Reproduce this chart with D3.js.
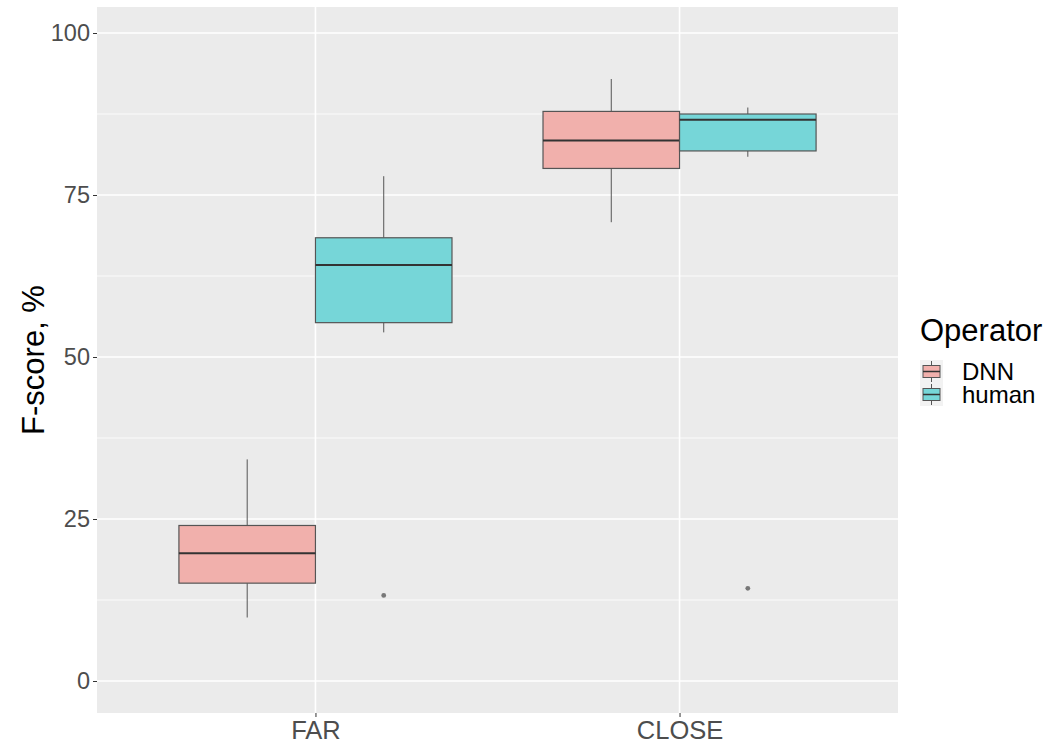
<!DOCTYPE html>
<html>
<head>
<meta charset="utf-8">
<script src="https://cdn.jsdelivr.net/npm/d3@7"></script>
<style>
body { margin: 0; background: #fff; }
text { font-family: "Liberation Sans", Arial, sans-serif; }
</style>
</head>
<body>
<svg width="1053" height="744"></svg>
<script>
// values
var distances = ["FAR", "CLOSE"];
var operators = ["DNN", "human"];
var fills = ["#F1B0AC", "#76D6D8"];
var yTicks = [0, 25, 50, 75, 100];

// one row per box: lower whisker, q1, median, q3, upper whisker
var boxDistance = ["FAR", "FAR", "CLOSE", "CLOSE"];
var boxOperator = ["DNN", "human", "DNN", "human"];
var boxLow  = [9.8, 53.8, 70.8, 80.9];
var boxQ1   = [15.1, 55.3, 79.1, 81.8];
var boxMed  = [19.7, 64.2, 83.4, 86.6];
var boxQ3   = [24.0, 68.4, 87.9, 87.5];
var boxHigh = [34.2, 77.9, 92.9, 88.5];

var outDistance = ["FAR", "CLOSE"];
var outOperator = ["human", "human"];
var outValue = [13.2, 14.3];

var svg = d3.select("svg");
var pLeft = 97, pRight = 898, pTop = 7, pBottom = 713;

var x = d3.scalePoint().domain(distances).range([pLeft, pRight]).padding(0.6);
var step = x.step();
var dodge = d3.scaleBand().domain(operators).range([-0.375 * step, 0.375 * step]);
var y = d3.scaleLinear().domain([0, 100]).range([681, 33]);
var color = d3.scaleOrdinal().domain(operators).range(fills);

svg.append("rect").attr("x", pLeft).attr("y", pTop)
    .attr("width", pRight - pLeft).attr("height", pBottom - pTop).attr("fill", "#EBEBEB");

// grid
var minor = [12.5, 37.5, 62.5, 87.5];
svg.append("g").selectAll("line").data(minor).enter().append("line")
    .attr("x1", pLeft).attr("x2", pRight)
    .attr("y1", function(d) { return y(d); }).attr("y2", function(d) { return y(d); })
    .attr("stroke", "#fff").attr("stroke-width", 0.8);
svg.append("g").selectAll("line").data(yTicks).enter().append("line")
    .attr("x1", pLeft).attr("x2", pRight)
    .attr("y1", function(d) { return y(d); }).attr("y2", function(d) { return y(d); })
    .attr("stroke", "#fff").attr("stroke-width", 1.6);
svg.append("g").selectAll("line").data(distances).enter().append("line")
    .attr("y1", pTop).attr("y2", pBottom)
    .attr("x1", function(d) { return x(d); }).attr("x2", function(d) { return x(d); })
    .attr("stroke", "#fff").attr("stroke-width", 1.6);

// boxes
var boxes = boxDistance.map(function(d, i) {
    return { dist: d, op: boxOperator[i], lo: boxLow[i], q1: boxQ1[i], med: boxMed[i], q3: boxQ3[i], hi: boxHigh[i] };
});
var g = svg.append("g").selectAll("g").data(boxes).enter().append("g")
    .attr("transform", function(d) { return "translate(" + (x(d.dist) + dodge(d.op)) + ",0)"; });
var bw = dodge.bandwidth();
g.append("line").attr("x1", bw / 2).attr("x2", bw / 2)
    .attr("y1", function(d) { return y(d.hi); }).attr("y2", function(d) { return y(d.q3); })
    .attr("stroke", "#555").attr("stroke-width", 1);
g.append("line").attr("x1", bw / 2).attr("x2", bw / 2)
    .attr("y1", function(d) { return y(d.q1); }).attr("y2", function(d) { return y(d.lo); })
    .attr("stroke", "#555").attr("stroke-width", 1);
g.append("rect").attr("x", 0).attr("width", bw)
    .attr("y", function(d) { return y(d.q3); })
    .attr("height", function(d) { return y(d.q1) - y(d.q3); })
    .attr("fill", function(d) { return color(d.op); })
    .attr("stroke", "#555").attr("stroke-width", 1.2);
g.append("line").attr("x1", 0).attr("x2", bw)
    .attr("y1", function(d) { return y(d.med); }).attr("y2", function(d) { return y(d.med); })
    .attr("stroke", "#333").attr("stroke-width", 2);

// outliers
svg.append("g").selectAll("circle").data(outValue).enter().append("circle")
    .attr("cx", function(d, i) { return x(outDistance[i]) + dodge(outOperator[i]) + bw / 2; })
    .attr("cy", function(d) { return y(d); })
    .attr("r", 2.4).attr("fill", "#777");

// axes
var ya = svg.append("g").attr("transform", "translate(" + pLeft + ",0)")
    .call(d3.axisLeft(y).tickValues(yTicks).tickSize(4).tickPadding(3));
var xa = svg.append("g").attr("transform", "translate(0," + pBottom + ")")
    .call(d3.axisBottom(x).tickSize(4).tickPadding(4));
[ya, xa].forEach(function(a) {
    a.select(".domain").remove();
    a.selectAll(".tick line").attr("stroke", "#333");
    a.selectAll(".tick text").attr("fill", "#4D4D4D")
        .style("font-family", "Liberation Sans, Arial, sans-serif");
});
ya.selectAll(".tick text").style("font-size", "23.5px");
xa.selectAll(".tick text").style("font-size", "25.5px");

svg.append("text").attr("transform", "translate(44," + (pTop + pBottom) / 2 + ") rotate(-90)")
    .attr("text-anchor", "middle").style("font-size", "31px").text("F-score, %");

// legend
svg.append("text").attr("x", 920).attr("y", 341).style("font-size", "31px").text("Operator");
var lg = svg.append("g").selectAll("g").data(operators).enter().append("g")
    .attr("transform", function(d, i) { return "translate(920," + (360 + i * 23) + ")"; });
lg.append("rect").attr("width", 23).attr("height", 23).attr("fill", "#F2F2F2");
lg.append("line").attr("x1", 11.5).attr("x2", 11.5).attr("y1", 1).attr("y2", 22).attr("stroke", "#555");
lg.append("rect").attr("x", 3).attr("y", 5.5).attr("width", 17).attr("height", 12)
    .attr("fill", function(d) { return color(d); }).attr("stroke", "#555");
lg.append("line").attr("x1", 3).attr("x2", 20).attr("y1", 11.5).attr("y2", 11.5).attr("stroke", "#333").attr("stroke-width", 1.5);
lg.append("text").attr("x", 42).attr("y", 20).style("font-size", "24px").text(function(d) { return d; });
</script>
</body>
</html>
